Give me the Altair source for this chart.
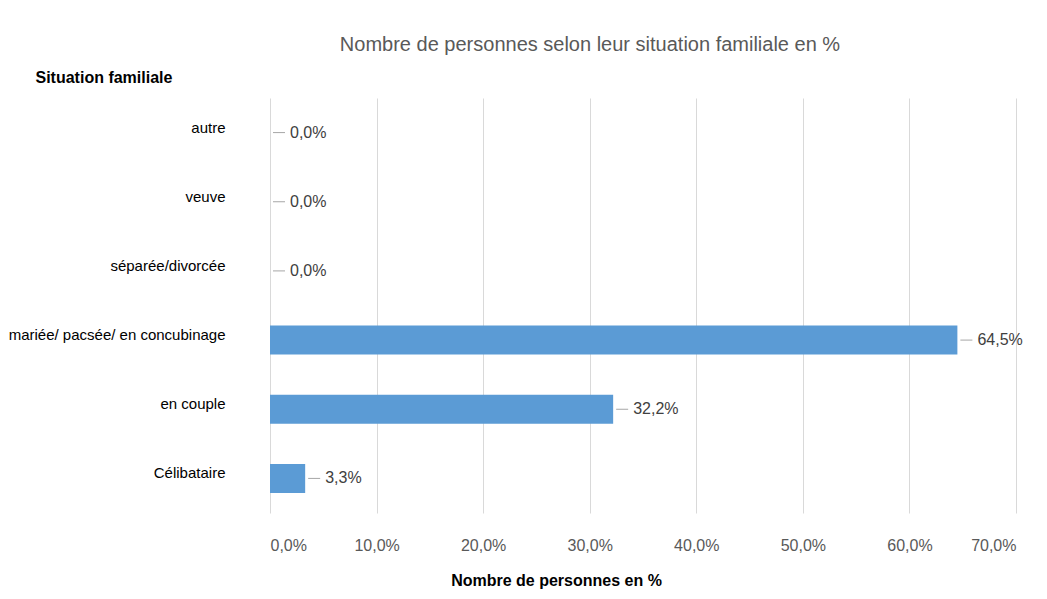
import altair as alt
import pandas as pd

categories = ["autre", "veuve", "séparée/divorcée", "mariée/ pacsée/ en concubinage", "en couple", "Célibataire"]
values = [0.0, 0.0, 0.0, 64.5, 32.2, 3.3]
labels = [f"{v:.1f}".replace(".", ",") + "%" for v in values]

df = pd.DataFrame({"cat": categories, "val": values, "lab": labels})

FONT = "Liberation Sans, sans-serif"

y_enc = alt.Y("cat:N", sort=categories,
              scale=alt.Scale(paddingInner=0.58, paddingOuter=0.29),
              axis=alt.Axis(title="Situation familiale", titleAngle=0, titleX=-235, titleY=-21,
                            titleAlign="left", titleBaseline="middle", titleFontSize=16,
                            titleFontWeight="bold", titleColor="#000000", titleFont=FONT,
                            labelFont=FONT, labelFontSize=15, labelColor="#000000",
                            labelPadding=45, labelOffset=-5, ticks=False, domain=False,
                            labelLimit=400))

x_enc = alt.X("val:Q", scale=alt.Scale(domain=[0, 70], nice=False),
              axis=alt.Axis(title="Nombre de personnes en %", values=[0, 10, 20, 30, 40, 50, 60, 70],
                            labelExpr="replace(format(datum.value, '.1f'), '.', ',') + '%'",
                            labelFont=FONT, labelFontSize=16, labelColor="#595959",
                            labelPadding=24, ticks=False, domain=False,
                            grid=True, gridColor="#d9d9d9", gridWidth=1,
                            titleFont=FONT, titleFontSize=16, titleFontWeight="bold",
                            titleColor="#000000", titleX=286, titleY=67,
                            titleAlign="center", titleBaseline="middle"))

bars = alt.Chart(df).mark_bar(color="#5B9BD5").encode(x=x_enc, y=y_enc)

leaders = alt.Chart(df).mark_rule(color="#a6a6a6", strokeWidth=1, xOffset=3, x2Offset=15).encode(
    x="val:Q", x2="val:Q", y=alt.Y("cat:N", sort=categories, bandPosition=0.5))

texts = alt.Chart(df).mark_text(align="left", baseline="middle", dx=20, font=FONT,
                                fontSize=16, color="#404040").encode(
    x="val:Q", y=alt.Y("cat:N", sort=categories, bandPosition=0.5), text="lab:N")

chart = alt.layer(bars, leaders, texts).properties(
    width=746, height=415,
    title=alt.TitleParams("Nombre de personnes selon leur situation familiale en %",
                          font=FONT, fontSize=20, fontWeight="normal", color="#595959",
                          anchor="middle", dx=-53, offset=14),
    autosize=alt.AutoSizeParams(type="none"),
    padding={"left": 262, "top": 90, "right": 23, "bottom": 78},
    background="white",
).configure_view(stroke=None)

chart.save("out.html", embed_options={"renderer": "svg", "actions": False})
